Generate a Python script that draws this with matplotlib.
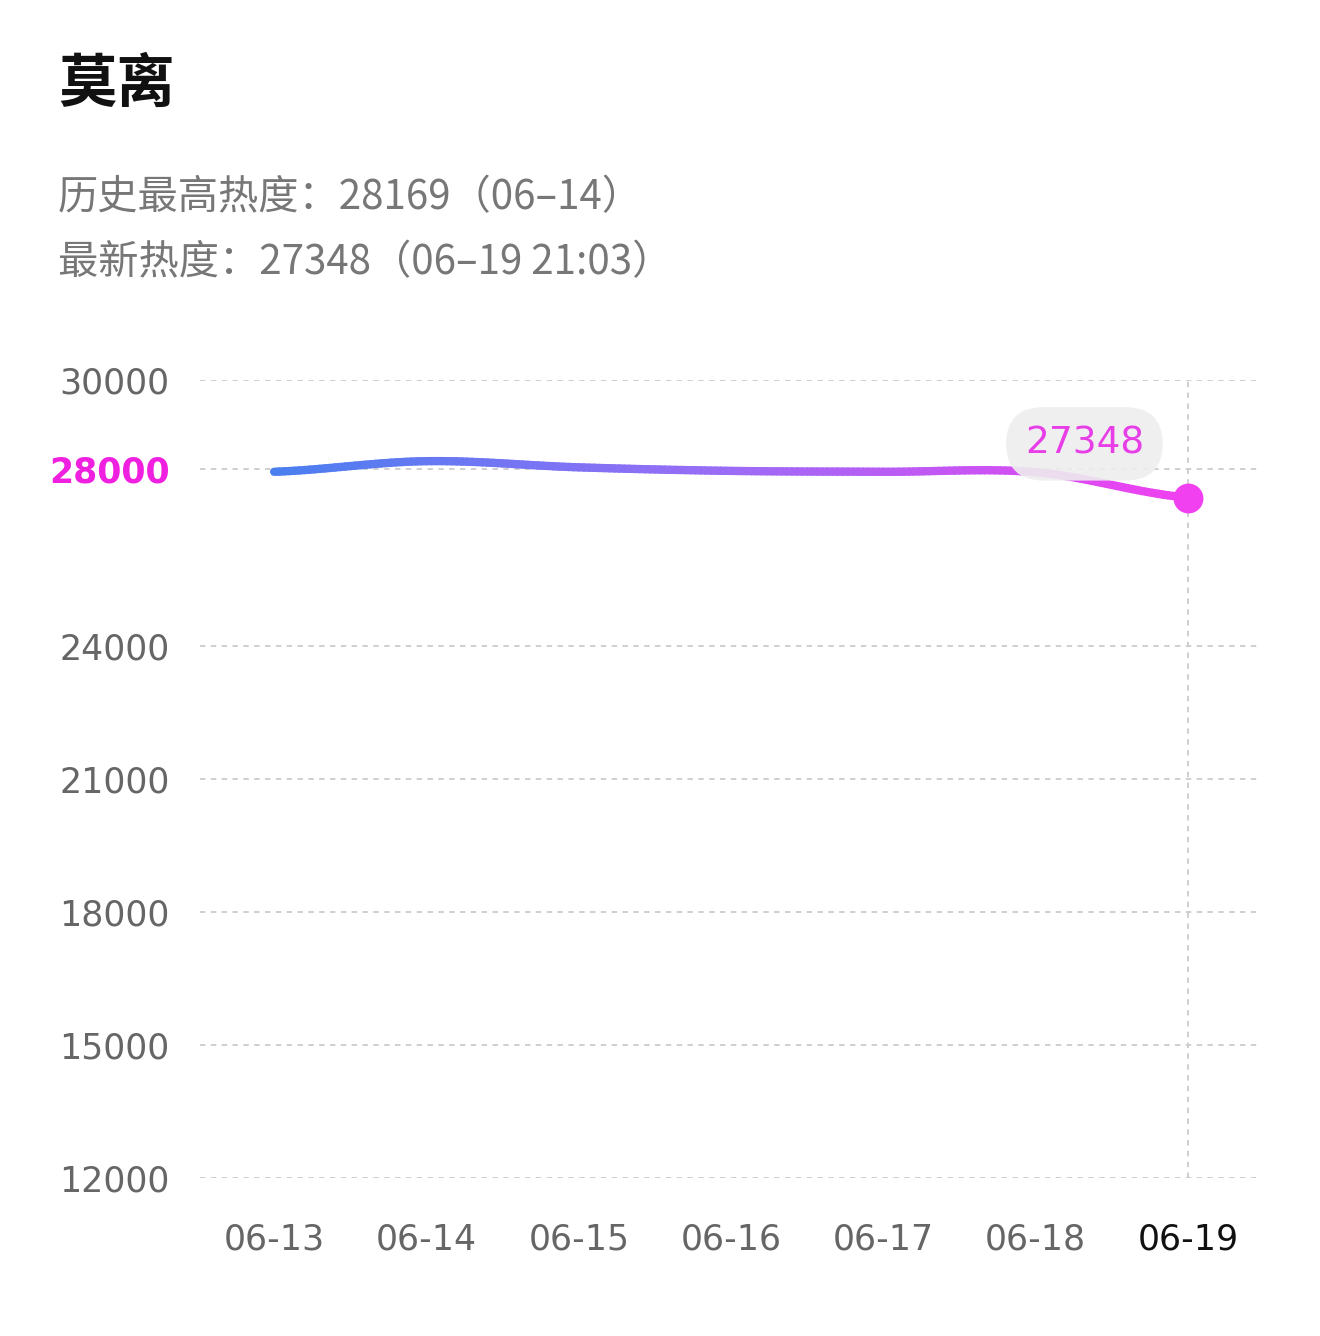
import numpy as np
import matplotlib
matplotlib.use("Agg")
import matplotlib.pyplot as plt
from matplotlib.collections import LineCollection
from matplotlib.colors import LinearSegmentedColormap

plt.rcParams['font.family'] = ['Noto Sans CJK SC', 'DejaVu Sans']

dates = ["06-13", "06-14", "06-15", "06-16", "06-17", "06-18", "06-19"]
values = [27930, 28169, 28030, 27950, 27930, 27920, 27348]
yticks = [12000, 15000, 18000, 21000, 24000, 28000, 30000]
title = "莫离"
line1 = "历史最高热度：28169（06–14）"
line2 = "最新热度：27348（06–19 21:03）"

fig = plt.figure(figsize=(13.2, 13.36), dpi=100)
ax = fig.add_axes([200/1320, 1-1178/1336, 1058/1320, 798/1336])
x = np.arange(len(values))
ax.set_xlim(-0.487, 6.46)
ax.set_ylim(12000, 30000)

v = np.array(values, float)
xs, ys = [], []
p = np.concatenate([[v[0]], v, [v[-1]]])
for i in range(len(v) - 1):
    t = np.linspace(0, 1, 30, endpoint=False)
    p0, p1, p2, p3 = p[i], p[i+1], p[i+2], p[i+3]
    yy = 0.5*((2*p1) + (-p0+p2)*t + (2*p0-5*p1+4*p2-p3)*t**2 + (-p0+3*p1-3*p2+p3)*t**3)
    xs.extend(i + t); ys.extend(yy)
xs.append(x[-1]); ys.append(v[-1])
xs, ys = np.array(xs), np.array(ys)
pts = np.array([xs, ys]).T.reshape(-1, 1, 2)
segs = np.concatenate([pts[:-1], pts[1:]], axis=1)
cmap = LinearSegmentedColormap.from_list("g", ["#4a7ff0", "#9b6cf6", "#f040f0"])
lc = LineCollection(segs, cmap=cmap, linewidth=6, capstyle='round', zorder=3)
lc.set_array(xs[:-1])
ax.add_collection(lc)
ax.scatter([x[-1]], [v[-1]], s=420, color="#f040f0", zorder=4)

for yt in yticks:
    ax.axhline(yt, color="#cccccc", lw=1.3, ls=(0, (3, 3)), zorder=1)
ax.axvline(x[-1], color="#cccccc", lw=1.3, ls=(0, (3, 3)), zorder=1)

ax.set_yticks(yticks)
ax.set_yticklabels([str(t) for t in yticks], family='DejaVu Sans')
for lab, t in zip(ax.get_yticklabels(), yticks):
    if t == 28000:
        lab.set_color("#f020e0"); lab.set_fontweight("bold")
    else:
        lab.set_color("#666666")
ax.set_xticks(x)
ax.set_xticklabels(dates, family='DejaVu Sans')
for i, lab in enumerate(ax.get_xticklabels()):
    lab.set_color("#111111" if i == len(dates)-1 else "#666666")
ax.tick_params(axis='y', length=0, labelsize=25, pad=22)
ax.tick_params(axis='x', length=0, labelsize=25, pad=32)
for s in ax.spines.values():
    s.set_visible(False)

ax.annotate(str(values[-1]), xy=(5.32, 28560), ha='center', va='center',
            fontsize=27, color="#e83ee8", zorder=6, family='DejaVu Sans',
            bbox=dict(boxstyle="round,pad=0.5,rounding_size=1.0", fc="#eeeeee", ec="none", alpha=0.9))

fig.text(58/1320, 1-85/1336, title, fontsize=42, fontweight='bold', color="#111111", va='center')
fig.text(58/1320, 1-198/1336, line1, fontsize=29, color="#777777", va='center')
fig.text(58/1320, 1-263/1336, line2, fontsize=29, color="#777777", va='center')

fig.savefig("out.png", dpi=100, facecolor="white")
